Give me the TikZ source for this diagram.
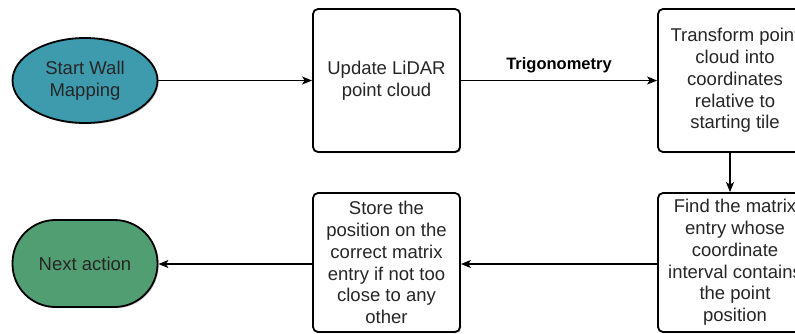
\documentclass[tikz,border=0pt]{standalone}
\usepackage{fontspec}
\setmainfont{Liberation Sans}
\usetikzlibrary{shapes.geometric,arrows.meta,shadows}
\definecolor{startc}{HTML}{3E9BAE}
\definecolor{nextc}{HTML}{529E73}
\definecolor{txt}{HTML}{262626}
\tikzset{
  procbox/.style={draw=black, line width=1.8pt, rounded corners=5pt, fill=white,
    minimum width=147pt, minimum height=143pt, align=center, text=txt,
    font=\fontsize{18.5}{21.8}\selectfont, inner sep=0pt,
    drop shadow={shadow xshift=1.2pt, shadow yshift=-1.2pt, fill=black!45, opacity=0.5}},
  termnode/.style={draw=black, line width=1.8pt, align=center, text=txt,
    font=\fontsize{18.5}{21.8}\selectfont, inner sep=0pt,
    drop shadow={shadow xshift=1.2pt, shadow yshift=-1.2pt, fill=black!45, opacity=0.5}},
  flow/.style={draw=black, line width=1.3pt, -{Stealth[length=10pt,width=8pt,inset=2.5pt]}}
}
\begin{document}
\begin{tikzpicture}[x=1pt,y=-1pt]
\useasboundingbox (0,0) rectangle (795,333);
\node[termnode, ellipse, fill=startc, minimum width=145pt, minimum height=85pt] (start) at (85,80.5) {Start Wall\\Mapping};
\node[procbox] (update) at (386.5,80.5) {Update LiDAR\\point cloud};
\node[procbox, minimum width=154pt] (transform) at (735,80.5) {Transform point\\cloud into\\coordinates\\relative to\\starting tile};
\node[procbox, minimum width=154pt, minimum height=139pt] (find) at (735,262.5) {Find the matrix\\entry whose\\coordinate\\interval contains\\the point\\position};
\node[procbox, minimum height=139pt] (store) at (386.5,262.5) {Store the\\position on the\\correct matrix\\entry if not too\\close to any\\other};
\node[termnode, rectangle, rounded corners=43pt, fill=nextc, minimum width=145pt, minimum height=87pt] (next) at (85,263.5) {Next action};
\draw[flow] (start) -- (update);
\draw[flow] (update) -- node[above=4pt, font=\bfseries\fontsize{16.5}{19}\selectfont, text=black] (trig) {Trigonometry} (transform);
\draw[flow] (transform.south -| 730,0) -- (find.north -| 730,0);
\draw[flow] (find.west |- 0,264) -- (store.east |- 0,264);
\draw[flow] (store.west |- 0,264) -- (next.east |- 0,264);
\end{tikzpicture}
\end{document}
